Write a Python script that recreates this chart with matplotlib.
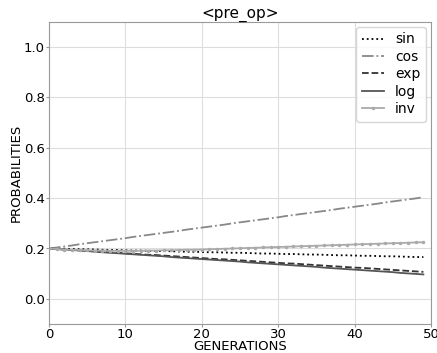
import matplotlib
matplotlib.use('Agg')
import matplotlib.pyplot as plt

generations = list(range(50))

sin_vals = [0.200, 0.199, 0.199, 0.198, 0.197, 0.197, 0.196, 0.195, 0.194, 0.194,
            0.193, 0.192, 0.192, 0.191, 0.190, 0.190, 0.189, 0.188, 0.187, 0.187,
            0.186, 0.185, 0.185, 0.184, 0.183, 0.183, 0.182, 0.181, 0.180, 0.180,
            0.179, 0.178, 0.178, 0.177, 0.176, 0.176, 0.175, 0.174, 0.173, 0.173,
            0.172, 0.171, 0.171, 0.170, 0.169, 0.169, 0.168, 0.167, 0.166, 0.166]

cos_vals = [0.200, 0.204, 0.208, 0.212, 0.217, 0.221, 0.225, 0.229, 0.233, 0.237,
            0.241, 0.246, 0.250, 0.254, 0.258, 0.262, 0.266, 0.270, 0.275, 0.279,
            0.283, 0.287, 0.291, 0.295, 0.300, 0.304, 0.308, 0.312, 0.316, 0.320,
            0.324, 0.329, 0.333, 0.337, 0.341, 0.345, 0.349, 0.353, 0.358, 0.362,
            0.366, 0.370, 0.374, 0.378, 0.383, 0.387, 0.391, 0.395, 0.399, 0.404]

exp_vals = [0.200, 0.198, 0.196, 0.194, 0.192, 0.191, 0.189, 0.187, 0.185, 0.183,
            0.181, 0.179, 0.177, 0.175, 0.174, 0.172, 0.170, 0.168, 0.166, 0.164,
            0.162, 0.160, 0.158, 0.157, 0.155, 0.153, 0.151, 0.149, 0.147, 0.145,
            0.143, 0.141, 0.140, 0.138, 0.136, 0.134, 0.132, 0.130, 0.128, 0.126,
            0.124, 0.123, 0.121, 0.119, 0.117, 0.115, 0.113, 0.111, 0.109, 0.107]

log_vals = [0.200, 0.198, 0.196, 0.194, 0.192, 0.190, 0.187, 0.185, 0.183, 0.181,
            0.179, 0.177, 0.175, 0.173, 0.171, 0.169, 0.166, 0.164, 0.162, 0.160,
            0.158, 0.156, 0.154, 0.152, 0.150, 0.148, 0.145, 0.143, 0.141, 0.139,
            0.137, 0.135, 0.133, 0.131, 0.129, 0.127, 0.124, 0.122, 0.120, 0.118,
            0.116, 0.114, 0.112, 0.110, 0.108, 0.106, 0.103, 0.101, 0.099, 0.097]

inv_vals = [0.200, 0.198, 0.196, 0.195, 0.194, 0.193, 0.192, 0.192, 0.191, 0.191,
            0.191, 0.191, 0.191, 0.192, 0.192, 0.193, 0.193, 0.194, 0.195, 0.195,
            0.196, 0.197, 0.198, 0.199, 0.200, 0.201, 0.202, 0.203, 0.204, 0.205,
            0.206, 0.207, 0.208, 0.209, 0.210, 0.211, 0.212, 0.213, 0.214, 0.215,
            0.216, 0.217, 0.218, 0.219, 0.220, 0.221, 0.222, 0.223, 0.224, 0.225]

fig = plt.figure(figsize=(4.37, 3.53), dpi=100)
ax = fig.add_axes([49 / 437, 29 / 353, 382 / 437, 302 / 353])

ax.plot(generations, sin_vals, ':', color='black', lw=1.3, label='sin')
ax.plot(generations, cos_vals, '-.', color='#888888', lw=1.3, label='cos')
ax.plot(generations, exp_vals, '--', color='#333333', lw=1.3, label='exp')
ax.plot(generations, log_vals, '-', color='#555555', lw=1.3, label='log')
ax.plot(generations, inv_vals, '-', color='#aaaaaa', lw=1.3, marker='.',
        markersize=3, label='inv')

ax.set_xlim(0, 50)
ax.set_ylim(-0.1, 1.1)
ax.set_yticks([0.0, 0.2, 0.4, 0.6, 0.8, 1.0])
ax.set_xticks([0, 10, 20, 30, 40, 50])
ax.grid(True, color='#dddddd', lw=0.8)
ax.set_axisbelow(True)
for s in ax.spines.values():
    s.set_color('#999999')
ax.tick_params(labelsize=9.5, color='#999999', length=2, pad=1)

ax.set_title('<pre_op>', fontsize=11, pad=2)
ax.set_xlabel('GENERATIONS', fontsize=9.5, labelpad=-1)
ax.set_ylabel('PROBABILITIES', fontsize=9.5, labelpad=1)
ax.legend(loc='upper right', fontsize=10, handlelength=1.6,
          labelspacing=0.25, borderaxespad=0.35)

fig.savefig('out.png', dpi=100)
